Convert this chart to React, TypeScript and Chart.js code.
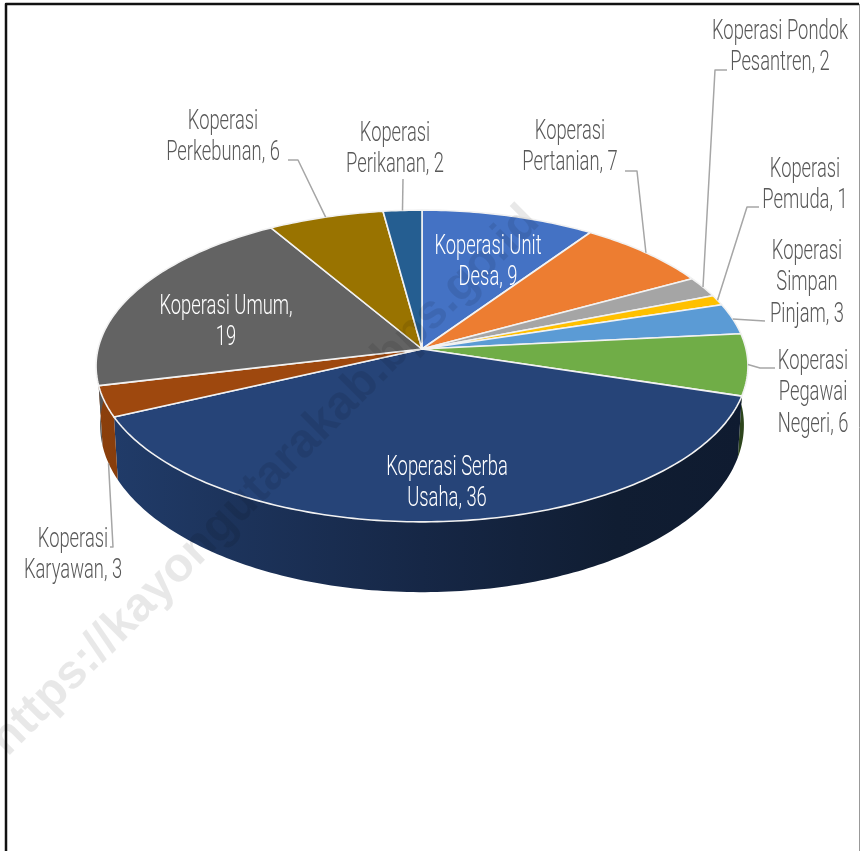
import React, { useEffect, useRef } from "react";
import { Chart, registerables } from "chart.js";

Chart.register(...registerables);

const categories = [
  "Koperasi Unit Desa",
  "Koperasi Pertanian",
  "Koperasi Pondok Pesantren",
  "Koperasi Pemuda",
  "Koperasi Simpan Pinjam",
  "Koperasi Pegawai Negeri",
  "Koperasi Serba Usaha",
  "Koperasi Karyawan",
  "Koperasi Umum",
  "Koperasi Perkebunan",
  "Koperasi Perikanan",
];
const values = [9, 7, 2, 1, 3, 6, 36, 3, 19, 6, 2];
const colors = ["#4472C4", "#ED7D31", "#A5A5A5", "#FFC000", "#5B9BD5", "#70AD47", "#264478", "#9E480E", "#636363", "#997300", "#255E91"];
const watermark = "https://kayongutarakab.bps.go.id";

// perspective of the disc (unit disc -> screen)
const CX = 422, K = 0.109;
const TOP = { a: 324, b: 154, cy: 349 };
const BOTTOM = { a: 320, b: 165, cy: 407 };

const project = (plane: typeof TOP, angle: number, r = 1) => {
  const u = Math.cos(angle) * r, v = Math.sin(angle) * r;
  const d = 1 - K * v;
  return { x: CX + (plane.a * u) / d, y: plane.cy + (plane.b * v) / d };
};

const rgbOf = (hex: string) => [1, 3, 5].map((i) => parseInt(hex.slice(i, i + 2), 16));
const shade = (hex: string, f: number) => `rgb(${rgbOf(hex).map((c) => Math.round(c * f)).join(",")})`;

// label layout, per slice: centre x, first line y, word counts per line, colour, leader elbow points
type Lay = { x: number; y: number; lines: number[]; color: string; pts: number[][]; wall?: boolean };
const GREY = "#595959";
const layout: Lay[] = [
  { x: 488, y: 247, lines: [2, 2], color: "#fff", pts: [] },
  { x: 570, y: 132, lines: [1, 2], color: GREY, pts: [[637, 171], [625, 171]] },
  { x: 780, y: 32, lines: [2, 2], color: GREY, pts: [[715, 70], [727, 70]] },
  { x: 805, y: 170, lines: [1, 2], color: GREY, pts: [[747, 207], [759, 207]] },
  { x: 807, y: 252, lines: [1, 1, 2], color: GREY, pts: [[765, 321]] },
  { x: 813, y: 362, lines: [1, 1, 2], color: GREY, pts: [[760, 368], [775, 368]] },
  { x: 447, y: 468, lines: [2, 2], color: "#fff", pts: [] },
  { x: 73, y: 540, lines: [1, 2], color: GREY, pts: [[113, 547], [110, 547]], wall: true },
  { x: 226, y: 307, lines: [2, 1], color: "#fff", pts: [] },
  { x: 223, y: 122, lines: [1, 2], color: GREY, pts: [[298, 160], [288, 160]] },
  { x: 395, y: 134, lines: [1, 2], color: GREY, pts: [[403, 179]] },
];
const LINE_H = 31.5;
const TEXT_SCALE = 0.68;
const FONT = '300 27px Roboto, "Liberation Sans Narrow", sans-serif';

const disc3d = {
  id: "disc3d",
  beforeDatasetsDraw(chart: any) {
    const ctx: CanvasRenderingContext2D = chart.ctx;
    const arcs = chart.getDatasetMeta(0).data;
    const visA = -0.09, visB = Math.PI + 0.09;
    // walls: only the front half of the rim
    arcs.forEach((el: any, i: number) => {
      const s = Math.max(el.startAngle, visA), e = Math.min(el.endAngle, visB);
      if (e <= s) return;
      const n = Math.max(2, Math.ceil((e - s) * 60));
      ctx.beginPath();
      for (let j = 0; j <= n; j++) {
        const p = project(TOP, s + ((e - s) * j) / n);
        j ? ctx.lineTo(p.x, p.y) : ctx.moveTo(p.x, p.y);
      }
      for (let j = n; j >= 0; j--) {
        const p = project(BOTTOM, s + ((e - s) * j) / n);
        ctx.lineTo(p.x, p.y);
      }
      ctx.closePath();
      const g = ctx.createLinearGradient(100, 0, 745, 0);
      const c = colors[i];
      g.addColorStop(0, shade(c, 0.88));
      g.addColorStop(0.5, shade(c, 0.58));
      g.addColorStop(0.8, shade(c, 0.42));
      g.addColorStop(1, shade(c, 0.4));
      ctx.fillStyle = g;
      ctx.fill();
    });
    // top face
    arcs.forEach((el: any) => {
      const s = el.startAngle, e = el.endAngle;
      const n = Math.max(3, Math.ceil((e - s) * 60));
      ctx.beginPath();
      ctx.moveTo(CX, TOP.cy);
      for (let j = 0; j <= n; j++) {
        const p = project(TOP, s + ((e - s) * j) / n);
        ctx.lineTo(p.x, p.y);
      }
      ctx.closePath();
      ctx.fillStyle = el.options.backgroundColor;
      ctx.fill();
      ctx.lineWidth = el.options.borderWidth;
      ctx.strokeStyle = el.options.borderColor;
      ctx.lineJoin = "round";
      ctx.stroke();
    });
    return false;
  },
  afterDraw(chart: any) {
    const ctx: CanvasRenderingContext2D = chart.ctx;
    const arcs = chart.getDatasetMeta(0).data;
    ctx.save();
    // watermark
    ctx.save();
    ctx.translate(265, 481);
    ctx.rotate(-Math.PI / 4);
    ctx.font = 'bold 48px "Liberation Sans", Arial, sans-serif';
    ctx.textAlign = "center";
    ctx.textBaseline = "middle";
    ctx.fillStyle = "rgba(0,0,0,0.09)";
    ctx.fillText(watermark, 0, 0);
    ctx.restore();
    // frame
    ctx.strokeStyle = "#111";
    ctx.lineWidth = 2.5;
    ctx.beginPath();
    ctx.moveTo(6, 851);
    ctx.lineTo(6, 4);
    ctx.lineTo(859, 4);
    ctx.stroke();
    ctx.strokeStyle = "#999";
    ctx.lineWidth = 1;
    ctx.beginPath();
    ctx.moveTo(859.5, 4);
    ctx.lineTo(859.5, 851);
    ctx.stroke();
    // leaders and labels
    layout.forEach((l, i) => {
      const el = arcs[i];
      const mid = (el.startAngle + el.endAngle) / 2;
      if (l.pts.length) {
        const p = project(l.wall ? BOTTOM : TOP, mid);
        ctx.strokeStyle = "#a6a6a6";
        ctx.lineWidth = 1.5;
        ctx.beginPath();
        ctx.moveTo(p.x, p.y);
        l.pts.forEach((q) => ctx.lineTo(q[0], q[1]));
        ctx.stroke();
      }
      const words = `${categories[i]}, ${values[i]}`.split(" ");
      let w = 0;
      l.lines.forEach((cnt, row) => {
        const text = words.slice(w, w + cnt).join(" ");
        w += cnt;
        ctx.save();
        ctx.translate(l.x, l.y + row * LINE_H);
        ctx.scale(TEXT_SCALE, 1);
        ctx.font = FONT;
        ctx.textAlign = "center";
        ctx.textBaseline = "middle";
        ctx.fillStyle = l.color;
        ctx.fillText(text, 0, 0);
        ctx.restore();
      });
    });
    ctx.restore();
  },
};

export default function App() {
  const ref = useRef<HTMLCanvasElement>(null);
  useEffect(() => {
    const chart = new Chart(ref.current!, {
      type: "pie",
      data: {
        labels: categories,
        datasets: [{ data: values, backgroundColor: colors, borderColor: "#f2f2f2", borderWidth: 1.6 }],
      },
      options: {
        responsive: false,
        animation: false,
        plugins: { legend: { display: false }, tooltip: { enabled: false } },
      },
      plugins: [disc3d],
    } as any);
    return () => chart.destroy();
  }, []);
  return (
    <canvas
      ref={ref}
      width={860}
      height={851}
      style={{ position: "absolute", left: 0, top: 0, width: 860, height: 851, display: "block" }}
    />
  );
}
